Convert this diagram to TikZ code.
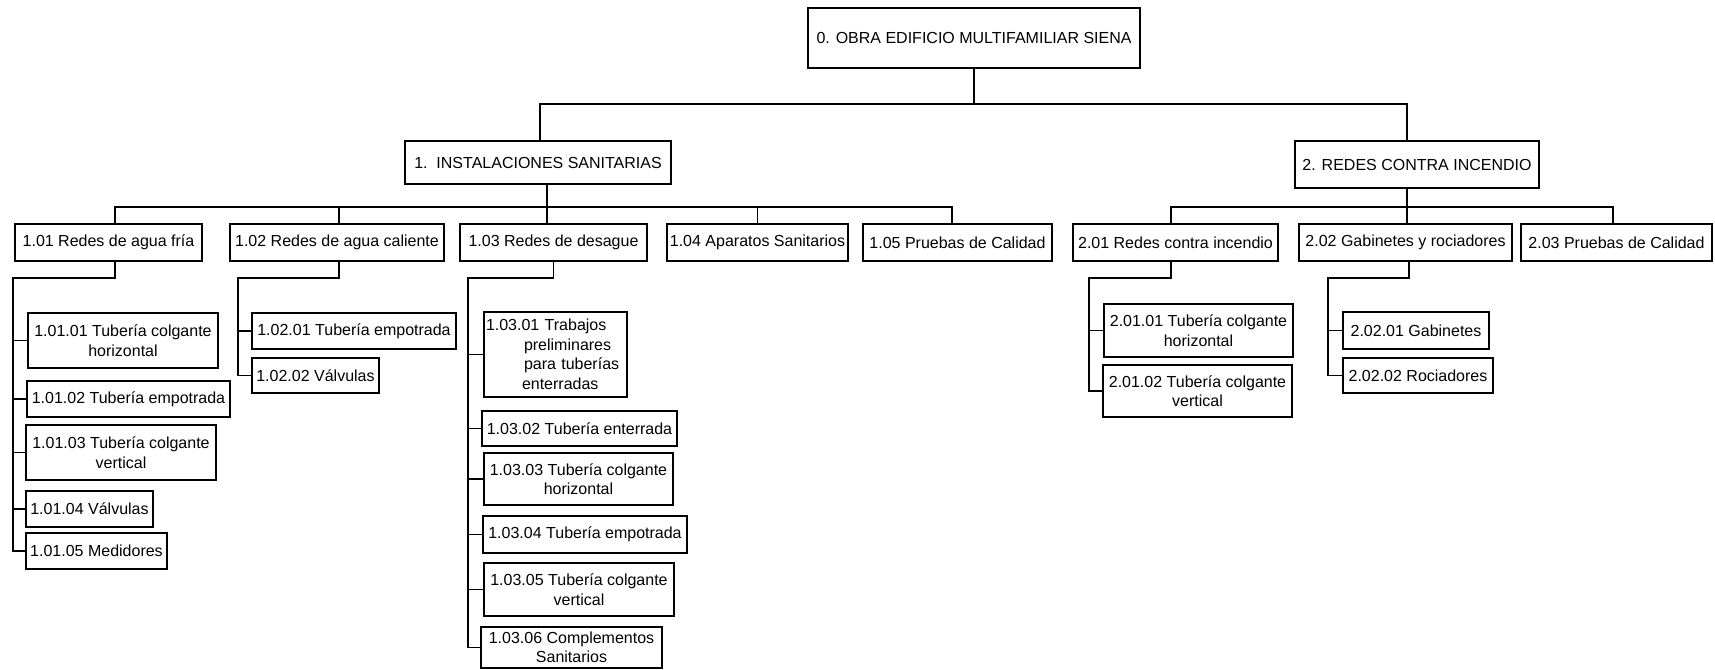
\documentclass[tikz,border=0pt]{standalone}
\usepackage{fontspec}
\setmainfont{Liberation Sans}
\begin{document}
\begin{tikzpicture}[x=1pt,y=-1pt,
  wbs/.style={draw, line width=1.6pt, inner sep=2pt, align=center,
    font=\fontsize{16}{19.5}\selectfont},
  link/.style={line width=1.6pt}]
\useasboundingbox (0,0) rectangle (1715,669);

% ---- level 0 ----
\node[wbs, minimum width=332pt, minimum height=60pt] (root) at (974,38) {0. OBRA EDIFICIO MULTIFAMILIAR SIENA};

% ---- level 1 ----
\node[wbs, minimum width=266pt, minimum height=43pt] (n1) at (538,162.5) {1.~\ INSTALACIONES SANITARIAS};
\node[wbs, minimum width=244pt, minimum height=47pt] (n2) at (1417,164.5) {2. REDES CONTRA INCENDIO};

% ---- level 2 ----
\node[wbs, minimum width=187pt, minimum height=37pt] (n101) at (108.5,242.5) {1.01 Redes de agua fría};
\node[wbs, minimum width=214pt, minimum height=37pt] (n102) at (337,242.5) {1.02 Redes de agua caliente};
\node[wbs, minimum width=187pt, minimum height=37pt] (n103) at (553.5,242.5) {1.03 Redes de desague};
\node[wbs, minimum width=181pt, minimum height=37pt] (n104) at (757.5,242.5) {1.04 Aparatos Sanitarios};
\node[wbs, minimum width=189pt, minimum height=37pt] (n105) at (957.5,242.5) {1.05 Pruebas de Calidad};
\node[wbs, minimum width=205pt, minimum height=37pt] (n201) at (1175.5,242.5) {2.01 Redes contra incendio};
\node[wbs, minimum width=213pt, minimum height=37pt] (n202) at (1405.5,242.5) {2.02 Gabinetes y rociadores};
\node[wbs, minimum width=191pt, minimum height=37pt] (n203) at (1616.5,242.5) {2.03 Pruebas de Calidad};

% ---- level 3: 1.01 ----
\node[wbs, minimum width=190pt, minimum height=55pt] (c10101) at (123,340.5) {1.01.01 Tubería colgante\\horizontal};
\node[wbs, minimum width=203pt, minimum height=36pt] (c10102) at (128.5,399) {1.01.02 Tubería empotrada};
\node[wbs, minimum width=190pt, minimum height=55pt] (c10103) at (121,452.5) {1.01.03 Tubería colgante\\vertical};
\node[wbs, minimum width=127pt, minimum height=36pt] (c10104) at (89.5,509) {1.01.04 Válvulas};
\node[wbs, minimum width=141pt, minimum height=36pt] (c10105) at (96.5,551) {1.01.05 Medidores};

% ---- level 3: 1.02 ----
\node[wbs, minimum width=204pt, minimum height=36pt] (c10201) at (354,331) {1.02.01 Tubería empotrada};
\node[wbs, minimum width=127pt, minimum height=35pt] (c10202) at (315.5,375.5) {1.02.02 Válvulas};

% ---- level 3: 1.03 ----
\node[wbs, align=left, text width=139pt, minimum height=85pt] (c10301) at (555.5,354.5)
  {1.03.01 Trabajos\\\hspace*{38pt}preliminares\\\hspace*{38pt}para tuberías\\\hspace*{36pt}enterradas};
\node[wbs, minimum width=195pt, minimum height=35pt] (c10302) at (579.5,428.5) {1.03.02 Tubería enterrada};
\node[wbs, minimum width=189pt, minimum height=52pt] (c10303) at (578.5,479) {1.03.03 Tubería colgante\\horizontal};
\node[wbs, minimum width=204pt, minimum height=37pt] (c10304) at (585,534.5) {1.03.04 Tubería empotrada};
\node[wbs, minimum width=190pt, minimum height=53pt] (c10305) at (579,589.5) {1.03.05 Tubería colgante\\vertical};
\node[wbs, minimum width=181pt, minimum height=41pt] (c10306) at (571.5,647.5) {1.03.06 Complementos\\Sanitarios};

% ---- level 3: 2.01 ----
\node[wbs, minimum width=189pt, minimum height=53pt] (c20101) at (1198.5,330.5) {2.01.01 Tubería colgante\\horizontal};
\node[wbs, minimum width=189pt, minimum height=52pt] (c20102) at (1197.5,391) {2.01.02 Tubería colgante\\vertical};

% ---- level 3: 2.02 ----
\node[wbs, minimum width=146pt, minimum height=37pt] (c20201) at (1416,330.5) {2.02.01 Gabinetes};
\node[wbs, minimum width=150pt, minimum height=35pt] (c20202) at (1418,375.5) {2.02.02 Rociadores};

% ---- bus points ----
\coordinate (b0) at (974,104);
\coordinate (b1) at (547,207);
\coordinate (b2) at (1407,207);
\coordinate (s101) at (13,278);
\coordinate (s102) at (238,278);
\coordinate (s103) at (468,278);
\coordinate (s201) at (1089,278);
\coordinate (s202) at (1328,278);

% ---- root to level 1 ----
\draw[link] (root.south) -- (b0);
\draw[link] (b0) -| ([xshift=2pt]n1.north);
\draw[link] (b0) -| ([xshift=-10pt]n2.north);

% ---- level 1 to level 2 ----
\draw[link] (n1.south -| b1) -- (b1);
\draw[link] (b1) -| ([xshift=6.5pt]n101.north);
\draw[link] (b1) -| ([xshift=2pt]n102.north);
\draw[link] (b1) -| ([xshift=-6.5pt]n103.north);
\draw[link] (b1) -| (n104.north);
\draw[link] (b1) -| ([xshift=-5.5pt]n105.north);
\draw[link] (n2.south -| b2) -- (b2);
\draw[link] (b2) -| ([xshift=-4.5pt]n201.north);
\draw[link] (b2) -| ([xshift=1.5pt]n202.north);
\draw[link] (b2) -| ([xshift=-3.5pt]n203.north);

% ---- level 2 to level 3 ----
\draw[link] ([xshift=6.5pt]n101.south) |- (s101) |- (c10105.west);
\foreach \c in {c10101,c10102,c10103,c10104}
  \draw[link] (s101 |- \c.west) -- (\c.west);

\draw[link] ([xshift=2pt]n102.south) |- (s102) |- (c10202.west);
\draw[link] (s102 |- c10201.west) -- (c10201.west);

\draw[link] (n103.south) |- (s103) |- (c10306.west);
\foreach \c in {c10301,c10302,c10303,c10304,c10305}
  \draw[link] (s103 |- \c.west) -- (\c.west);

\draw[link] ([xshift=-4.5pt]n201.south) |- (s201) |- (c20102.west);
\draw[link] (s201 |- c20101.west) -- (c20101.west);

\draw[link] ([xshift=3.5pt]n202.south) |- (s202) |- (c20202.west);
\draw[link] (s202 |- c20201.west) -- (c20201.west);
\end{tikzpicture}
\end{document}
